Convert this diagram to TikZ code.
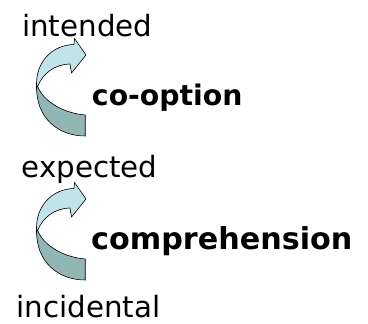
\documentclass[tikz,border=0pt]{standalone}
\usepackage{fontspec}
\setmainfont{DejaVu Sans}
\definecolor{bandlight}{RGB}{192,228,232}
\definecolor{banddark}{RGB}{146,181,181}
\tikzset{
  level/.style={anchor=base west, inner sep=0pt, font=\fontsize{29.3}{31}\selectfont},
  mode/.style={anchor=base west, inner sep=0pt},
  edge/.style={draw=black, line width=0.6pt, line join=round},
  pics/twistarrow/.style={code={
    % rear face of the ribbon (lower band ending in the tail)
    \path[edge, fill=banddark]
      (37,84) .. controls (40,98) and (60,113) .. (85.3,115)
      -- (85.3,136) .. controls (58,136) and (36,118) .. (36.5,86) -- cycle;
    % front face with the arrow head
    \path[edge, fill=bandlight]
      (74,44.5) -- (74.5,38.5) -- (86,55) -- (71.5,73) -- (70,64)
      .. controls (55,64) and (42,74) .. (37.5,87)
      -- (36.5,85) .. controls (36,62) and (52,45) .. (74,44.5) -- cycle;
  }}
}
\begin{document}
\begin{tikzpicture}[x=1pt, y=-1pt]
  \useasboundingbox (0,0) rectangle (368,324);
  \fill[white] (0,0) rectangle (368,324);

  \pic at (0,0) {twistarrow};
  \pic at (0,144) {twistarrow};

  \node[level] (intended)   at (22,36)  {intended};
  \node[level] (expected)   at (21.5,178) {expected};
  \node[level] (incidental) at (16.5,317) {incidental};

  \node[mode, font=\fontsize{28.3}{30}\selectfont\bfseries] (cooption) at (91.8,106) {co-option};
  \node[mode, font=\fontsize{30.2}{32}\selectfont\bfseries] (comprehension) at (91,250) {comprehension};
\end{tikzpicture}
\end{document}
